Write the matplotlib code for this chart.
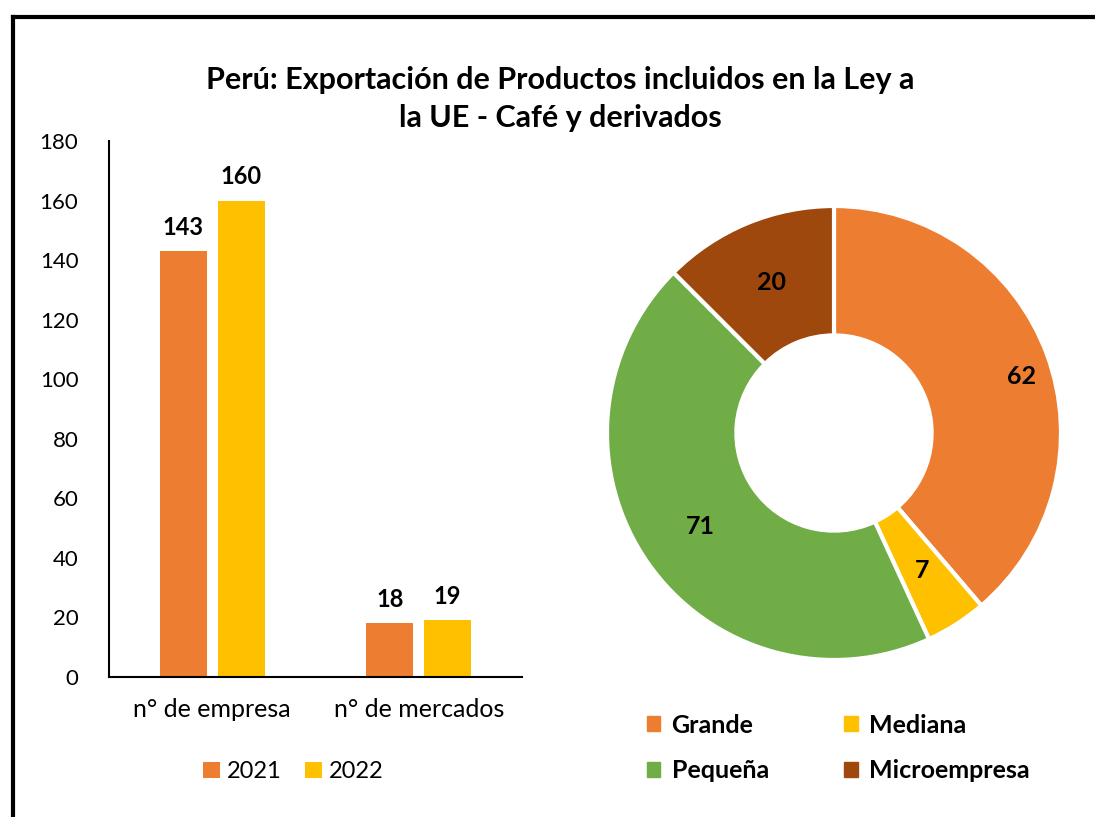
import numpy as np
import matplotlib
matplotlib.use("Agg")
import matplotlib.pyplot as plt
from matplotlib.lines import Line2D
from matplotlib.patches import Patch

plt.rcParams['font.family'] = ['Lato', 'DejaVu Sans']

# datos
titulo = "Perú: Exportación de Productos incluidos en la Ley a\nla UE - Café y derivados"
categorias = ["n° de empresa", "n° de mercados"]
anios = ["2021", "2022"]
valores_2021 = [143, 18]
valores_2022 = [160, 19]

tamanos = ["Grande", "Mediana", "Pequeña", "Microempresa"]
empresas = [62, 7, 71, 20]

c_naranja = "#ED7D31"
c_amarillo = "#FFC000"
c_verde = "#70AD47"
c_marron = "#9E480E"

fig = plt.figure(figsize=(10.95, 8.17), dpi=100)

# marco
fig.add_artist(Line2D([13 / 1095, 13 / 1095], [0, 1 - 17 / 817], color="black", lw=3,
                      transform=fig.transFigure, solid_capstyle="projecting"))
fig.add_artist(Line2D([13 / 1095, 1], [1 - 17 / 817, 1 - 17 / 817], color="black", lw=3,
                      transform=fig.transFigure, solid_capstyle="projecting"))

fig.text(0.512, 1 - 99 / 817, titulo, ha="center", va="center", fontsize=22,
         fontweight="bold", linespacing=1.45)

# barras
ax = fig.add_axes([109 / 1095, 1 - 677 / 817, 413 / 1095, 536 / 817])
x = np.arange(len(categorias))
w = 0.228
off = 0.14
b1 = ax.bar(x - off, valores_2021, w, color=c_naranja, label=anios[0])
b2 = ax.bar(x + off, valores_2022, w, color=c_amarillo, label=anios[1])
for barras in (b1, b2):
    for b in barras:
        ax.annotate(str(int(b.get_height())), (b.get_x() + b.get_width() / 2, b.get_height()),
                    xytext=(0, 9), textcoords="offset points", ha="center", va="bottom",
                    fontsize=17, fontweight="bold")
ax.set_xlim(-0.5, 1.5)
ax.set_ylim(0, 180)
ax.set_yticks(range(0, 181, 20))
ax.set_xticks(x)
ax.set_xticklabels(categorias)
ax.tick_params(axis="y", labelsize=16, length=0, pad=22)
ax.tick_params(axis="x", labelsize=18, length=0, pad=15)
for s in ("top", "right"):
    ax.spines[s].set_visible(False)
ax.spines["left"].set_linewidth(1.5)
ax.spines["bottom"].set_linewidth(1.5)
ax.legend(loc="center", bbox_to_anchor=(0.446, -0.177), ncol=2, frameon=False, fontsize=17,
          handlelength=0.7, handleheight=0.7, handletextpad=0.3, columnspacing=1.0)

# dona
r = 227
axp = fig.add_axes([(834 - r) / 1095, 1 - (433 + r) / 817, 2 * r / 1095, 2 * r / 817])
wedges, _, autotexts = axp.pie(empresas, colors=[c_naranja, c_amarillo, c_verde, c_marron],
                               startangle=90, counterclock=False, radius=1,
                               autopct=lambda p: "{:.0f}".format(p * sum(empresas) / 100),
                               pctdistance=0.72,
                               wedgeprops=dict(width=0.57, edgecolor="white", linewidth=3),
                               textprops=dict(fontsize=18, fontweight="bold", color="black"))
# etiqueta de Grande desplazada hacia afuera como en el original
xg, yg = autotexts[0].get_position()
autotexts[0].set_position((xg + 0.15, yg))
axp.set_xlim(-1, 1)
axp.set_ylim(-1, 1)
axp.set_aspect("auto")

handles = [Patch(color=c, label=t) for c, t in zip([c_naranja, c_amarillo, c_verde, c_marron], tamanos)]
fig.legend(handles=[handles[0], handles[2], handles[1], handles[3]], loc="center",
           bbox_to_anchor=(838 / 1095, 1 - 748 / 817), ncol=2, frameon=False,
           prop=dict(size=18, weight="bold"), handlelength=0.55, handleheight=0.55,
           handletextpad=0.45, columnspacing=3.0, labelspacing=0.9)

fig.savefig("out.png", dpi=100)
